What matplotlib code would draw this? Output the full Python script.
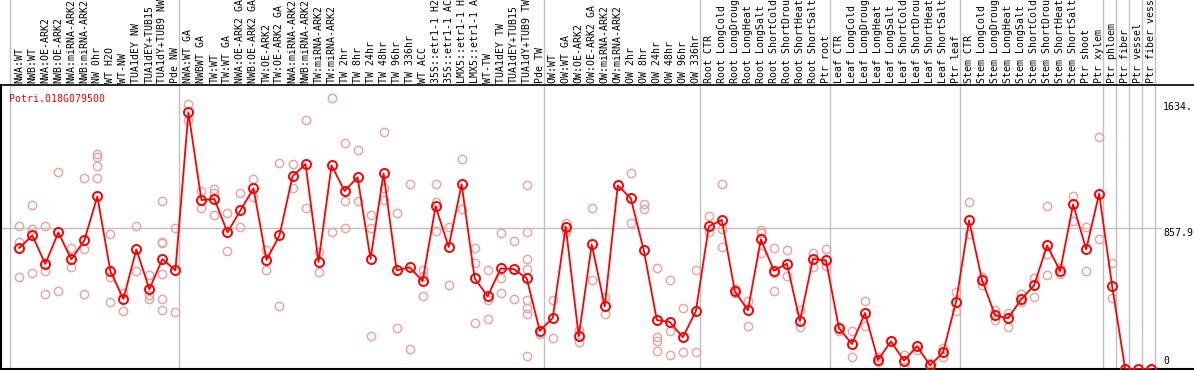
import numpy as np
import matplotlib
matplotlib.use("Agg")
from matplotlib import pyplot as plt

# sample labels, left to right, as they show in the header
labels = [
    "NWA:WT", "NWB:WT", "NWA:OE-ARK2", "NWB:OE-ARK2", "NWA:miRNA-ARK2", "NWB:miRNA-ARK2",
    "NW 0hr", "WT H2O", "WT-NW", "TUA1dEY NW", "TUA1dEY+TUB15", "TUA1dY+TUB9 NW", "Pde NW",
    "NWA:WT GA", "NWBWT GA", "TW:WT", "TW:WT GA", "NWA:OE-ARK2 GA", "NWB:OE-ARK2 GA",
    "TW:OE-ARK2", "TW:OE-ARK2 GA", "NWA:miRNA-ARK2", "NWB:miRNA-ARK2", "TW:miRNA-ARK2",
    "TW:miRNA-ARK2", "TW 2hr", "TW 8hr", "TW 24hr", "TW 48hr", "TW 96hr", "TW 336hr", "WT ACC",
    "35S::etr1-1 H2", "35S::etr1-1 AC", "LMX5::etr1-1 H", "LMX5::etr1-1 A", "WT-TW",
    "TUA1dEY TW", "TUA1dEY+TUB15", "TUA1dY+TUB9 TW", "Pde TW",
    "OW:WT", "OW:WT GA", "OW:OE-ARK2", "OW:OE-ARK2 GA", "OW:miRNA-ARK2", "OW:miRNA-ARK2",
    "OW 2hr", "OW 8hr", "OW 24hr", "OW 48hr", "OW 96hr", "OW 336hr",
    "Root CTR", "Root LongCold", "Root LongDroug", "Root LongHeat", "Root LongSalt",
    "Root ShortCold", "Root ShortDrou", "Root ShortHeat", "Root ShortSalt", "Ptr root",
    "Leaf CTR", "Leaf LongCold", "Leaf LongDroug", "Leaf LongHeat", "Leaf LongSalt",
    "Leaf ShortCold", "Leaf ShortDrou", "Leaf ShortHeat", "Leaf ShortSalt", "Ptr leaf",
    "Stem CTR", "Stem LongCold", "Stem LongDroug", "Stem LongHeat", "Stem LongSalt",
    "Stem ShortCold", "Stem ShortDrou", "Stem ShortHeat", "Stem ShortSalt", "Ptr shoot",
    "Ptr xylem", "Ptr phloem", "Ptr fiber", "Ptr vessel", "Ptr fiber vess",
]
group_sizes = [13, 28, 12, 10, 10, 11, 1, 1, 1, 1]

# mean expression per sample
means = [
    736, 813, 639, 831, 667, 783, 1050, 596, 426, 728, 485, 669, 600,
    1562, 1028, 1034, 831, 965, 1099, 663, 813, 1172, 1247, 651, 1239, 1083, 1166, 669,
    1190, 600, 619, 535, 990, 742, 1124, 552, 442, 612, 608, 552,
    233, 310, 866, 199, 758, 381, 1117, 1038, 722, 298, 286, 193,
    351, 868, 907, 473, 357, 789, 598, 641, 292, 669,
    661, 249, 152, 341, 55, 168, 51, 138, 22, 101,
    408, 904, 541, 327, 308, 424, 509, 752, 596, 1002, 728,
    1067, 503, 0, 0, 0,
]

# individual replicates per sample
reps = [
    [868, 775, 558], [996, 854, 584], [868, 594, 456], [1197, 473], [734, 621],
    [1160, 730, 456], [1308, 1292, 1233, 1160], [821, 558, 408], [464, 353], [868, 594],
    [570, 452, 424], [1022, 771, 765, 578, 424, 359], [856, 345],
    [1612, 1515], [1083, 977], [1095, 1073, 935], [947, 716], [1071, 864], [1156, 1048],
    [722, 600], [1251, 383], [1247, 1099], [1515, 980], [710, 590], [1647, 831],
    [1373, 1022, 858], [1330, 1020], [935, 858, 199], [1440, 1101, 1026], [947, 249],
    [1124, 122], [602, 568, 442], [1124, 1016, 840], [864, 509], [1276, 971],
    [734, 645, 280], [604, 418, 304], [825, 552, 460], [777, 424],
    [1117, 831, 669, 606, 418, 369, 335, 79],
    [215], [420, 189], [890, 836], [237, 166], [980, 539], [440, 333], [1117],
    [1190, 886], [1004, 973], [612, 193, 168, 107], [539, 229, 83], [369, 101],
    [600, 101], [931, 831], [1124, 850, 740], [485, 460], [412, 260], [846, 825, 704],
    [734, 586, 473], [722, 564], [359, 258], [704, 623],
    [728, 625], [229], [229, 73], [414, 260], [75, 41], [168], [85, 14], [116], [39],
    [128, 75],
    [466, 351], [1014, 819], [562, 511], [357, 296], [341, 254], [456, 406], [552, 436],
    [990, 698, 570], [617, 580], [1053, 902], [862, 594], [1409, 789], [645, 430],
    [0], [0], [0],
]

gene = "Potri.018G079500"
ytick_vals = [1634, 857.9, 0]
ytick_txt = ["1634.", "857.9", "0"]

W, H = 1194, 370
fig = plt.figure(figsize=(W / 100, H / 100), dpi=100)
ax = fig.add_axes([1 / W, 1 / H, 1 - 1 / W, 284 / H])

mono = "DejaVu Sans Mono"
fs = 7.1

xs = np.arange(len(means)) + 0.69
ax.set_xlim(-0.715, 90.98)
ax.set_ylim(0, 1728)

# group separators (run up through the label header)
edges = np.concatenate([[0], np.cumsum(group_sizes)])
for e in edges:
    ax.axvline(e, ymin=0, ymax=369 / 284, color="#c0c0c0", lw=1, clip_on=False, zorder=0)
ax.axhline(857.9, xmin=0, xmax=0.972, color="#c0c0c0", lw=1, zorder=0)

rx = np.concatenate([[x] * len(r) for x, r in zip(xs, reps)])
ry = np.concatenate(reps)
ax.plot(rx, ry, "o", ms=6, mfc="none", mec="#f0a0a0", mew=1, zorder=2)
ax.plot(xs, means, "-", color="red", lw=1.3, zorder=3)
ax.plot(xs, means, "o", ms=6.5, mfc="none", mec="red", mew=1.4, zorder=4)

for x, lab in zip(xs, labels):
    ax.text(x, 1.007, lab, rotation=90, ha="center", va="bottom", family=mono,
            fontsize=fs, transform=ax.get_xaxis_transform(), clip_on=False)

ax.text((9.3 - 10.3) / 13.01, 0.968, gene, color="red", family=mono,
        fontsize=fs, va="top", ha="left", transform=ax.get_xaxis_transform())

tx = (1163 - 10.3) / 13.01
ax.text(tx, ytick_vals[0] - 10, ytick_txt[0], family=mono, fontsize=fs, va="top", ha="left")
ax.text(tx, ytick_vals[1] - 2, ytick_txt[1], family=mono, fontsize=fs, va="top", ha="left")
ax.text(tx, ytick_vals[2] + 20, ytick_txt[2], family=mono, fontsize=fs, va="bottom", ha="left")

ax.spines["right"].set_visible(False)
ax.spines["left"].set_linewidth(1.5)
ax.spines["bottom"].set_linewidth(1.5)
ax.spines["top"].set_linewidth(1.2)
ax.set_xticks([])
ax.set_yticks([])

fig.savefig("out.png", dpi=100)
